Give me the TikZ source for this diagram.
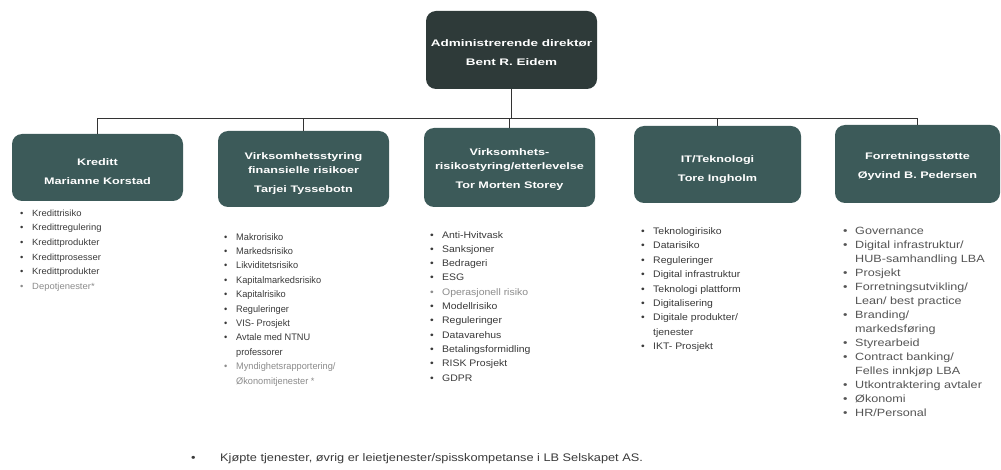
\documentclass[tikz,border=0pt]{standalone}
\usepackage{fontspec}
\setmainfont{Liberation Sans}
\newfontfamily\boxfont[FakeStretch=1.33]{Liberation Sans}
\newfontfamily\topfont[FakeStretch=1.42]{Liberation Sans}
\newfontfamily\listfont[FakeStretch=1.1]{Liberation Sans}
\newfontfamily\listfonta[FakeStretch=1.05]{Liberation Sans}
\newfontfamily\listfontb[FakeStretch=0.97]{Liberation Sans}
\newfontfamily\listfontc[FakeStretch=1.2]{Liberation Sans}
\newfontfamily\footfont[FakeStretch=1.16]{Liberation Sans}
\definecolor{topfill}{HTML}{2E3A39}
\definecolor{subfill}{HTML}{3C5A59}
\definecolor{listtext}{HTML}{3A3A3A}
\definecolor{lighttext}{HTML}{555555}
\definecolor{greytext}{HTML}{8C8C8C}
\definecolor{linecol}{HTML}{333333}
\newcommand{\itm}[1]{\makebox[12pt][l]{\textbullet}#1}
\newcommand{\cnt}[1]{\hspace*{12pt}#1}
\begin{document}
\begin{tikzpicture}[x=1pt,y=-1pt,
  topbox/.style={fill=topfill, rounded corners=10pt, inner sep=0pt},
  subbox/.style={fill=subfill, rounded corners=10pt, inner sep=0pt},
  toptext/.style={text=white, align=center, inner sep=0pt,
    font=\topfont\bfseries\fontsize{9.5}{14}\selectfont},
  boxtext/.style={text=white, align=center, inner sep=0pt,
    font=\boxfont\bfseries\fontsize{9.5}{14}\selectfont},
  listnode/.style={anchor=north west, align=left, inner sep=0pt, text=listtext,
    font=\listfont\fontsize{9.5}{14.4}\selectfont},
  conn/.style={draw=linecol, line width=0.8pt}]
\path[use as bounding box, fill=white] (0,0) rectangle (1001,470);

\node[topbox, minimum width=171pt, minimum height=78pt] (top) at (511.5,50) {};
\node[toptext] (toptx) at ([yshift=-3pt]top.center) {Administrerende direktør\\[5pt]Bent R. Eidem};

\node[subbox, minimum width=171pt, minimum height=67pt] (b1) at (97.5,167.5) {};
\node[subbox, minimum width=171pt, minimum height=76pt] (b2) at (303.5,169) {};
\node[subbox, minimum width=171pt, minimum height=79pt] (b3) at (509.5,167.5) {};
\node[subbox, minimum width=167pt, minimum height=77pt] (b4) at (717.5,164.5) {};
\node[subbox, minimum width=165pt, minimum height=78pt] (b5) at (917.5,164) {};

\node[boxtext] (t1) at ([yshift=-4pt]b1.center) {Kreditt\\[5pt]Marianne Korstad};
\node[boxtext] (t2) at ([yshift=-5pt]b2.center) {Virksomhetsstyring\\finansielle risikoer\\[5pt]Tarjei Tyssebotn};
\node[boxtext] (t3) at ([yshift=-2pt]b3.center) {Virksomhets-\\risikostyring/etterlevelse\\[5pt]Tor Morten Storey};
\node[boxtext] (t4) at ([yshift=-5pt]b4.center) {IT/Teknologi\\[5pt]Tore Ingholm};
\node[boxtext] (t5) at ([yshift=-3pt]b5.center) {Forretningsstøtte\\[5pt]Øyvind B. Pedersen};

\coordinate (bus) at (0,118);
\draw[conn] (top.south) -- (top.south |- bus) -| (b1.north);
\draw[conn] (top.south |- bus) -| (b2.north);
\draw[conn] (top.south |- bus) -| (b3.north);
\draw[conn] (top.south |- bus) -| (b4.north);
\draw[conn] (top.south |- bus) -| (b5.north);

\node[listnode, font=\listfonta\fontsize{9}{14.6}\selectfont] (l1) at (20,209.5) {\itm{Kredittrisiko}\\\itm{Kredittregulering}\\\itm{Kredittprodukter}\\\itm{Kredittprosesser}\\\itm{Kredittprodukter}\\\textcolor{greytext}{\itm{Depotjenester*}}};
\node[listnode, font=\listfontb\fontsize{9.5}{14.4}\selectfont] (l2) at (224,233) {\itm{Makrorisiko}\\\itm{Markedsrisiko}\\\itm{Likviditetsrisiko}\\\itm{Kapitalmarkedsrisiko}\\\itm{Kapitalrisiko}\\\itm{Reguleringer}\\\itm{VIS- Prosjekt}\\\itm{Avtale med NTNU}\\\cnt{professorer}\\\textcolor{greytext}{\itm{Myndighetsrapportering/}}\\\textcolor{greytext}{\cnt{Økonomitjenester *}}};
\node[listnode, font=\listfont\fontsize{9.5}{14.3}\selectfont] (l3) at (430,231) {\itm{Anti-Hvitvask}\\\itm{Sanksjoner}\\\itm{Bedrageri}\\\itm{ESG}\\\textcolor{greytext}{\itm{Operasjonell risiko}}\\\itm{Modellrisiko}\\\itm{Reguleringer}\\\itm{Datavarehus}\\\itm{Betalingsformidling}\\\itm{RISK Prosjekt}\\\itm{GDPR}};
\node[listnode] (l4) at (641,227.5) {\itm{Teknologirisiko}\\\itm{Datarisiko}\\\itm{Reguleringer}\\\itm{Digital infrastruktur}\\\itm{Teknologi plattform}\\\itm{Digitalisering}\\\itm{Digitale produkter/}\\\cnt{tjenester}\\\itm{IKT- Prosjekt}};
\node[listnode, text=lighttext, font=\listfontc\fontsize{10.5}{14}\selectfont] (l5) at (843,227) {\itm{Governance}\\\itm{Digital infrastruktur/}\\\cnt{HUB-samhandling LBA}\\\itm{Prosjekt}\\\itm{Forretningsutvikling/}\\\cnt{Lean/ best practice}\\\itm{Branding/}\\\cnt{markedsføring}\\\itm{Styrearbeid}\\\itm{Contract banking/}\\\cnt{Felles innkjøp LBA}\\\itm{Utkontraktering avtaler}\\\itm{Økonomi}\\\itm{HR/Personal}};

\node[anchor=west, inner sep=0pt, text=listtext, font=\footfont\fontsize{11}{13}\selectfont] (foot) at (191,459)
  {\makebox[29pt][l]{\textbullet}Kjøpte tjenester, øvrig er leietjenester/spisskompetanse i LB Selskapet AS.};
\end{tikzpicture}
\end{document}
